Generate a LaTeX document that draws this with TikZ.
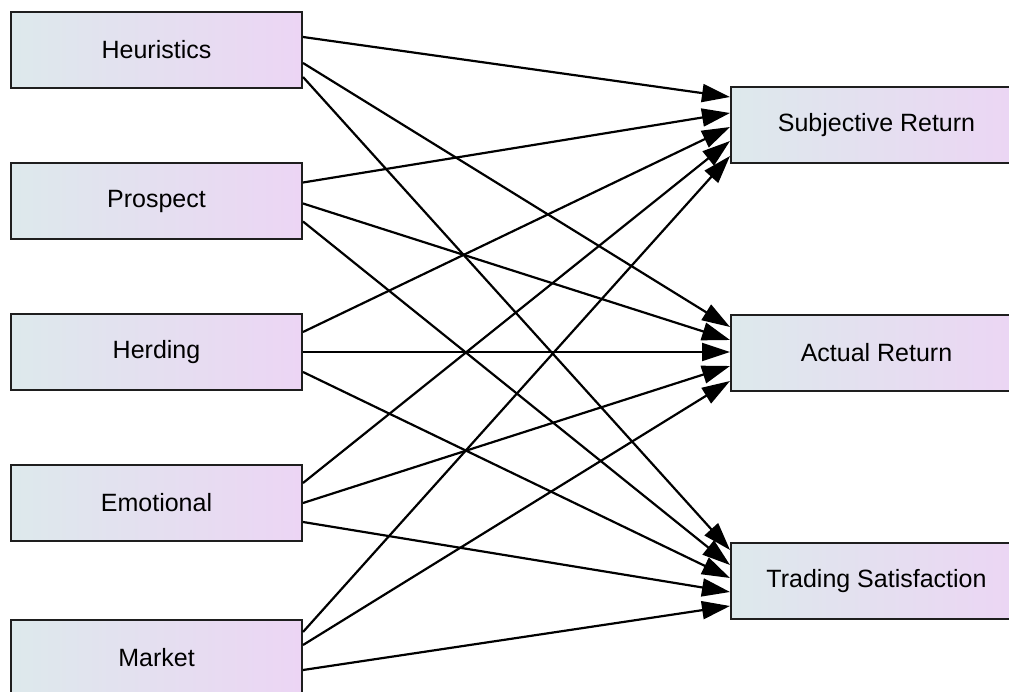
\documentclass[tikz,border=0pt]{standalone}
\usepackage{fontspec}
\setmainfont{Liberation Sans}
\usetikzlibrary{arrows.meta}
\definecolor{boxleft}{RGB}{221,233,236}
\definecolor{boxright}{RGB}{236,213,244}
\definecolor{boxedge}{RGB}{30,30,30}
\begin{document}
\begin{tikzpicture}[x=1pt,y=1pt,
  var/.style={draw=boxedge, line width=2pt, minimum width=291pt,
    minimum height=76pt, inner sep=0pt,
    left color=boxleft, right color=boxright,
    font=\fontsize{25}{29}\selectfont},
  effect/.style={line width=2.2pt, -{Triangle[length=28pt,width=18pt]}}]
\useasboundingbox (0,0) rectangle (1009,691);
\begin{scope}
  \clip (0,0) rectangle (1009,691);
  % predictors
  \node[var] (H)  at (156.5,641)   {Heuristics};
  \node[var] (P)  at (156.5,490)   {Prospect};
  \node[var] (He) at (156.5,338.5) {Herding};
  \node[var] (E)  at (156.5,188)   {Emotional};
  \node[var] (M)  at (156.5,33)    {Market};
  % outcomes
  \node[var] (SR) at (876.5,566)   {Subjective Return};
  \node[var] (AR) at (876.5,338)   {Actual Return};
  \node[var] (TS) at (876.5,110)   {Trading Satisfaction};
  % paths: source / start offset / target / end offset
  \foreach \s/\a/\t/\b in {
      H/13/SR/28,   H/-13/AR/26,   H/-27/TS/31,
      P/18.5/SR/12, P/-2.5/AR/13,  P/-20.5/TS/16,
      He/20.5/SR/-2, He/0.5/AR/1,  He/-19.5/TS/3,
      E/20/SR/-16,  E/0/AR/-13,    E/-19/TS/-11,
      M/26/SR/-31,  M/13/AR/-28,   M/-12/TS/-25}
    \draw[effect] ([yshift=\a pt]\s.east) -- ([yshift=\b pt]\t.west);
\end{scope}
\end{tikzpicture}
\end{document}
